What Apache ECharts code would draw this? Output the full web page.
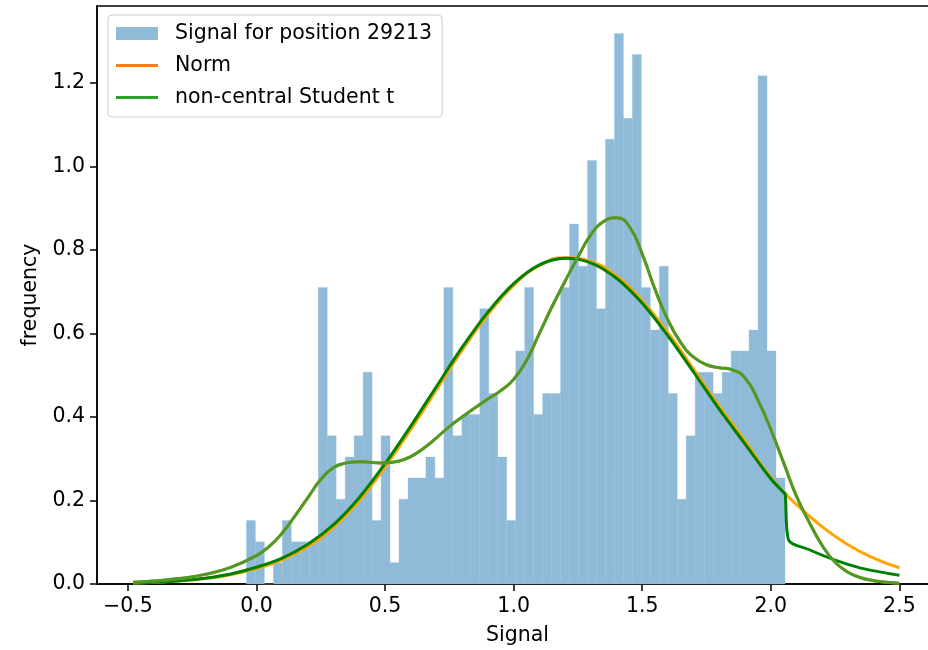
<!DOCTYPE html>
<html>
<head>
<meta charset="utf-8">
<script src="https://cdn.jsdelivr.net/npm/echarts@6/dist/echarts.min.js"></script>
<style>
  html, body { margin: 0; padding: 0; background: #ffffff; }
  #chart { width: 928px; height: 650px; }
</style>
</head>
<body>
<div id="chart"></div>
<script>
// Histogram of the signal: 60 equal bins starting at binStart
const binStart = -0.039;
const binWidth = 0.0349;
const binFreq = [
  0.152, 0.101, 0.000, 0.051, 0.152, 0.101, 0.101, 0.101, 0.710, 0.355,
  0.203, 0.304, 0.355, 0.507, 0.152, 0.355, 0.051, 0.203, 0.254, 0.254,
  0.304, 0.254, 0.710, 0.355, 0.406, 0.406, 0.659, 0.456, 0.304, 0.152,
  0.558, 0.710, 0.406, 0.456, 0.456, 0.710, 0.862, 0.761, 1.014, 0.659,
  1.065, 1.318, 1.115, 1.268, 0.710, 0.608, 0.761, 0.456, 0.203, 0.355,
  0.507, 0.507, 0.456, 0.507, 0.558, 0.558, 0.608, 1.217, 0.558, 0.254
];

// Fitted normal density
const normX = [-0.48, -0.4, -0.3, -0.2, -0.1, 0.0, 0.1, 0.2, 0.3, 0.4, 0.5, 0.6, 0.7, 0.8, 0.9, 1.0,
  1.1, 1.2, 1.3, 1.4, 1.5, 1.6, 1.7, 1.8, 1.9, 2.0, 2.1, 2.2, 2.3, 2.4, 2.5];
const normY = [0.002, 0.004, 0.007, 0.013, 0.022, 0.037, 0.058, 0.090, 0.136, 0.200, 0.280, 0.370, 0.465, 0.560, 0.645, 0.715,
  0.762, 0.781, 0.772, 0.737, 0.678, 0.601, 0.514, 0.425, 0.342, 0.255, 0.190, 0.137, 0.094, 0.062, 0.039];

// Fitted non-central t density (breaks down past the last bin edge)
const nctX = [-0.48, -0.4, -0.3, -0.2, -0.1, 0.0, 0.1, 0.2, 0.3, 0.4, 0.5, 0.6, 0.7, 0.8, 0.9, 1.0,
  1.1, 1.2, 1.3, 1.4, 1.5, 1.6, 1.7, 1.8, 1.9, 2.0, 2.05, 2.056, 2.068, 2.15, 2.25, 2.35, 2.45, 2.5];
const nctY = [0.002, 0.004, 0.008, 0.014, 0.024, 0.040, 0.062, 0.095, 0.142, 0.207, 0.288, 0.378, 0.473, 0.567, 0.651, 0.719,
  0.764, 0.780, 0.769, 0.732, 0.672, 0.594, 0.507, 0.418, 0.335, 0.252, 0.219, 0.215, 0.107, 0.082, 0.057, 0.038, 0.026, 0.021];

// Smoothed density estimate of the signal
const kdeX = [-0.48, -0.4, -0.3, -0.2, -0.1, 0.0, 0.05, 0.1, 0.15, 0.2, 0.25, 0.3, 0.35, 0.4, 0.45, 0.5,
  0.55, 0.6, 0.65, 0.7, 0.75, 0.8, 0.85, 0.9, 0.95, 1.0, 1.05, 1.1, 1.15, 1.2, 1.25, 1.3, 1.35, 1.4,
  1.45, 1.5, 1.55, 1.6, 1.65, 1.7, 1.75, 1.8, 1.85, 1.9, 1.95, 2.0, 2.05, 2.1, 2.15, 2.2, 2.25, 2.3,
  2.35, 2.4, 2.45, 2.5];
const kdeY = [0.004, 0.007, 0.013, 0.023, 0.040, 0.068, 0.090, 0.122, 0.163, 0.207, 0.250, 0.279, 0.290, 0.293, 0.291, 0.290,
  0.294, 0.305, 0.325, 0.350, 0.377, 0.400, 0.422, 0.443, 0.463, 0.490, 0.535, 0.600, 0.665, 0.725, 0.783, 0.836, 0.868, 0.877,
  0.856, 0.790, 0.705, 0.632, 0.578, 0.543, 0.525, 0.518, 0.513, 0.493, 0.440, 0.370, 0.290, 0.210, 0.147, 0.092, 0.052, 0.028,
  0.015, 0.008, 0.004, 0.002];

const xTicks = [-0.5, 0.0, 0.5, 1.0, 1.5, 2.0, 2.5];
const yTicks = [0.0, 0.2, 0.4, 0.6, 0.8, 1.0, 1.2];

const FONT = 'DejaVu Sans';
const FS = 20.5;
const zip = (xs, ys) => xs.map((x, i) => [x, ys[i]]);
const fmt = v => v.toFixed(1).replace('-', '\u2212');
// thin horizontal bar centred in a 42x13 legend slot
const LINE_ICON = 'path://M0,0 M0,5 L42,5 L42,8 L0,8 Z M42,13';

const histData = binFreq.map((f, i) => [binStart + i * binWidth, binStart + (i + 1) * binWidth, f]);

const chart = echarts.init(document.getElementById('chart'), null, { renderer: 'canvas' });

const axisCommon = {
  type: 'value',
  splitLine: { show: false },
  axisLine: { show: true, onZero: false, lineStyle: { color: '#000', width: 1.5 } },
  nameTextStyle: { fontFamily: FONT, fontSize: FS, color: '#000' }
};

chart.setOption({
  animation: false,
  backgroundColor: '#ffffff',
  grid: {
    left: 97, top: 6, width: 841, height: 578,
    show: true, borderColor: '#000', borderWidth: 1.5,
    outerBoundsMode: 'none'
  },
  xAxis: Object.assign({}, axisCommon, {
    min: -0.62, max: 2.65,
    name: 'Signal', nameLocation: 'middle', nameGap: 41,
    axisTick: { show: true, customValues: xTicks, length: 7, lineStyle: { color: '#000', width: 1.5 } },
    axisLabel: { customValues: xTicks, formatter: fmt, margin: 12, color: '#000', fontFamily: FONT, fontSize: FS }
  }),
  yAxis: Object.assign({}, axisCommon, {
    min: 0, max: 1.384,
    name: 'frequency', nameLocation: 'middle', nameGap: 54,
    axisTick: { show: true, customValues: yTicks, length: 7, lineStyle: { color: '#000', width: 1.5 } },
    axisLabel: { customValues: yTicks, formatter: fmt, margin: 12, color: '#000', fontFamily: FONT, fontSize: FS }
  }),
  legend: {
    orient: 'vertical', left: 108, top: 15,
    padding: [8, 10, 9, 8],
    backgroundColor: 'rgba(255,255,255,0.8)',
    borderColor: '#cccccc', borderWidth: 1, borderRadius: 4,
    itemWidth: 42, itemHeight: 13, itemGap: 11,
    textStyle: { fontFamily: FONT, fontSize: FS, color: '#000', padding: [0, 0, 0, 12], lineHeight: 21 },
    data: [
      { name: 'Signal for position 29213', icon: 'rect' },
      { name: 'Norm', icon: LINE_ICON },
      { name: 'non-central Student t', icon: LINE_ICON }
    ]
  },
  series: [
    {
      type: 'custom',
      name: 'Signal for position 29213',
      itemStyle: { color: '#8fbbd9' },
      encode: { x: [0, 1], y: 2 },
      data: histData,
      z: 1,
      renderItem: function (params, api) {
        const a = api.coord([api.value(0), api.value(2)]);
        const b = api.coord([api.value(1), 0]);
        return {
          type: 'rect',
          shape: { x: a[0], y: a[1], width: b[0] - a[0], height: b[1] - a[1] },
          style: { fill: '#8fbbd9', stroke: '#8fbbd9', lineWidth: 0.3 }
        };
      }
    },
    {
      type: 'line', data: zip(normX, normY), smooth: true, symbol: 'none', z: 2,
      lineStyle: { color: '#ffa500', width: 3 }
    },
    {
      type: 'line', data: zip(nctX, nctY), smooth: 0.3, symbol: 'none', z: 3,
      lineStyle: { color: '#008000', width: 3 }
    },
    {
      type: 'line', name: 'Norm', data: zip(kdeX, kdeY), smooth: true, symbol: 'none', z: 4,
      color: '#ff7f0e',
      lineStyle: { color: '#ff7f0e', width: 3 }
    },
    {
      type: 'line', name: 'non-central Student t', data: zip(kdeX, kdeY), smooth: true, symbol: 'none', z: 5,
      color: '#2ca02c',
      lineStyle: { color: '#2ca02c', width: 3, opacity: 0.85 }
    }
  ]
});
</script>
</body>
</html>
